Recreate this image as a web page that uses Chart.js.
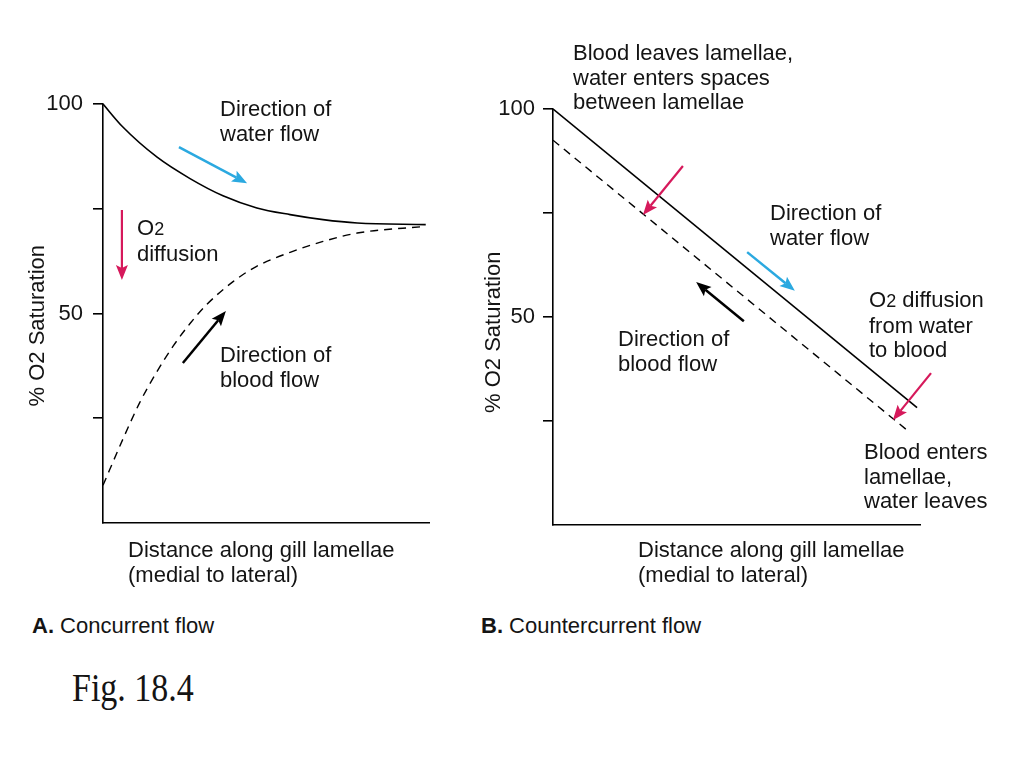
<!DOCTYPE html>
<html><head><meta charset="utf-8">
<script src="https://cdn.jsdelivr.net/npm/chart.js@4"></script>
<style>
html,body{margin:0;padding:0;background:#fff;width:1024px;height:768px;overflow:hidden;}
#wrap{position:relative;width:1024px;height:768px;background:#fff;}
canvas{position:absolute;top:0;}
.t{position:absolute;font-family:'Liberation Sans',Arial,Helvetica,sans-serif;font-size:22px;line-height:24.5px;color:#141414;white-space:nowrap;}
.s{font-size:18px;}
.fig{position:absolute;font-family:'Liberation Serif','Times New Roman',serif;font-size:34px;line-height:40px;color:#141414;transform:scaleY(1.2);transform-origin:0 0;white-space:nowrap;}
</style></head><body>
<div id="wrap">
<canvas id="cA" width="470" height="600" style="left:0px"></canvas>
<canvas id="cB" width="554" height="600" style="left:470px"></canvas>

<div class="t" style="left:220px;top:97px">Direction of<br>water flow</div>
<div class="t" style="left:137px;top:216px">O<span class="s">2</span><br>diffusion</div>
<div class="t" style="left:220px;top:343px">Direction of<br>blood flow</div>
<div class="t" style="left:128px;top:538px">Distance along gill lamellae<br>(medial to lateral)</div>
<div class="t" style="left:32px;top:614px"><b>A.</b> Concurrent flow</div>

<div class="t" style="left:573px;top:41px">Blood leaves lamellae,<br>water enters spaces<br>between lamellae</div>
<div class="t" style="left:770px;top:201px">Direction of<br>water flow</div>
<div class="t" style="left:869px;top:288px">O<span class="s">2</span> diffusion<br>from water<br>to blood</div>
<div class="t" style="left:618px;top:327px">Direction of<br>blood flow</div>
<div class="t" style="left:864px;top:440px">Blood enters<br>lamellae,<br>water leaves</div>
<div class="t" style="left:638px;top:538px">Distance along gill lamellae<br>(medial to lateral)</div>
<div class="t" style="left:481px;top:614px"><b>B.</b> Countercurrent flow</div>

<div class="fig" style="left:72px;top:664px">Fig. 18.4</div>
</div>
<script>
// ---------- data ----------
// A. Concurrent flow
const concWaterX = [0, 6.1, 16.6, 26.7, 36.8, 47.2, 57.4, 67.5, 78, 99];
const concWaterY = [100, 94.5, 87.3, 82.2, 78.1, 75.2, 73.6, 72.4, 71.6, 71.2];
const concBloodX = [0, 6.1, 11.3, 16.6, 21.5, 26.7, 31.9, 39.9, 47, 57.4, 67.5, 78, 99];
const concBloodY = [9, 20, 28.8, 36.2, 42.2, 47.6, 52.2, 57.6, 61.2, 64.6, 67.2, 69.2, 70.8];
// B. Countercurrent flow
const counterWaterX = [0, 99.2];
const counterWaterY = [100, 28.2];
const counterBloodX = [0, 97.3];
const counterBloodY = [92.5, 22.2];
// axis ticks
const yTickValues = [25, 50, 75, 100];
const yTickLabels = ['', '50', '', '100'];
const yTitle = '% O2 Saturation';
// annotation arrows (data units)
const arrowsA = [
  {from:[23.3, 89.7], to:[44.2, 81.1], color:'#2BA9E0', w:2.5},
  {from:[5.8, 74.7], to:[5.8, 58.0], color:'#D6195B', w:2.2},
  {from:[24.5, 38.2], to:[37.7, 50.6], color:'#000000', w:2.5}
];
const arrowsB = [
  {from:[35.4, 86.3], to:[24.5, 74.5], color:'#D6195B', w:2.2},
  {from:[52.9, 65.6], to:[65.9, 56.3], color:'#2BA9E0', w:2.5},
  {from:[52.0, 49.0], to:[39.0, 58.4], color:'#000000', w:2.5},
  {from:[103.0, 36.5], to:[92.6, 25.2], color:'#D6195B', w:2.2}
];

function pts(xs, ys){ return xs.map((x,i)=>({x:x, y:ys[i]})); }

function arrowPlugin(list){
  return {
    id:'arrows',
    afterDatasetsDraw(chart){
      const ctx = chart.ctx, sx = chart.scales.x, sy = chart.scales.y;
      list.forEach(a=>{
        const x1 = sx.getPixelForValue(a.from[0]), y1 = sy.getPixelForValue(a.from[1]);
        const x2 = sx.getPixelForValue(a.to[0]), y2 = sy.getPixelForValue(a.to[1]);
        const ang = Math.atan2(y2-y1, x2-x1);
        const hl = 15, hw = 6;
        const c = Math.cos(ang), s = Math.sin(ang);
        const bx = x2 - hl*c, by = y2 - hl*s;
        ctx.save();
        ctx.strokeStyle = a.color; ctx.fillStyle = a.color; ctx.lineWidth = a.w;
        ctx.beginPath(); ctx.moveTo(x1,y1); ctx.lineTo(bx+3*c, by+3*s); ctx.stroke();
        ctx.beginPath();
        ctx.moveTo(x2,y2);
        ctx.lineTo(bx + hw*s, by - hw*c);
        ctx.lineTo(bx + 3*c, by + 3*s);
        ctx.lineTo(bx - hw*s, by + hw*c);
        ctx.closePath(); ctx.fill();
        ctx.restore();
      });
    }
  };
}

const FONT = {family:"'Liberation Sans', Arial, Helvetica, sans-serif", size:22};

function makeChart(id, datasets, arrows, opt){
  return new Chart(document.getElementById(id), {
    type:'line',
    data:{datasets:datasets},
    plugins:[arrowPlugin(arrows)],
    options:{
      responsive:false, animation:false, devicePixelRatio:1,
      layout:{padding:opt.padding},
      plugins:{legend:{display:false}, tooltip:{enabled:false}},
      elements:{point:{radius:0}},
      scales:{
        x:{type:'linear', min:0, max:100,
           ticks:{display:false},
           grid:{display:true, drawOnChartArea:false, drawTicks:false},
           border:{display:true, color:'#000', width:1.6},
           afterFit(s){ s.height = 0; }},
        y:{type:'linear', min:0, max:100,
           afterBuildTicks(s){ s.ticks = yTickValues.map(v=>({value:v})); },
           ticks:{font:FONT, color:'#141414', padding:opt.tickPad,
                  callback:(v)=>{ const i = yTickValues.indexOf(v); return i>=0 ? yTickLabels[i] : ''; }},
           grid:{drawOnChartArea:false, drawTicks:true, tickLength:10, color:'#000', lineWidth:1.6},
           border:{display:true, color:'#000', width:1.6},
           title:{display:true, text:yTitle + opt.titleShift, font:FONT, color:'#141414', padding:{top:opt.titlePad, bottom:0}},
           afterFit(s){ s.width = opt.yWidth; }}
      }
    }
  });
}

makeChart('cA', [
  {data:pts(concWaterX, concWaterY), borderColor:'#000', borderWidth:1.6, cubicInterpolationMode:'monotone', fill:false},
  {data:pts(concBloodX, concBloodY), borderColor:'#000', borderWidth:1.4, borderDash:[8,6], cubicInterpolationMode:'monotone', fill:false}
], arrowsA, {padding:{left:0, top:104, right:41, bottom:77}, yWidth:103, titlePad:25, tickPad:10, titleShift:'    '});

makeChart('cB', [
  {data:pts(counterWaterX, counterWaterY), borderColor:'#000', borderWidth:1.6, tension:0, fill:false},
  {data:pts(counterBloodX, counterBloodY), borderColor:'#000', borderWidth:1.4, borderDash:[8,6], tension:0, fill:false}
], arrowsB, {padding:{left:0, top:109, right:104, bottom:75}, yWidth:83, titlePad:11, tickPad:8, titleShift:'     '});
</script>
</body></html>
